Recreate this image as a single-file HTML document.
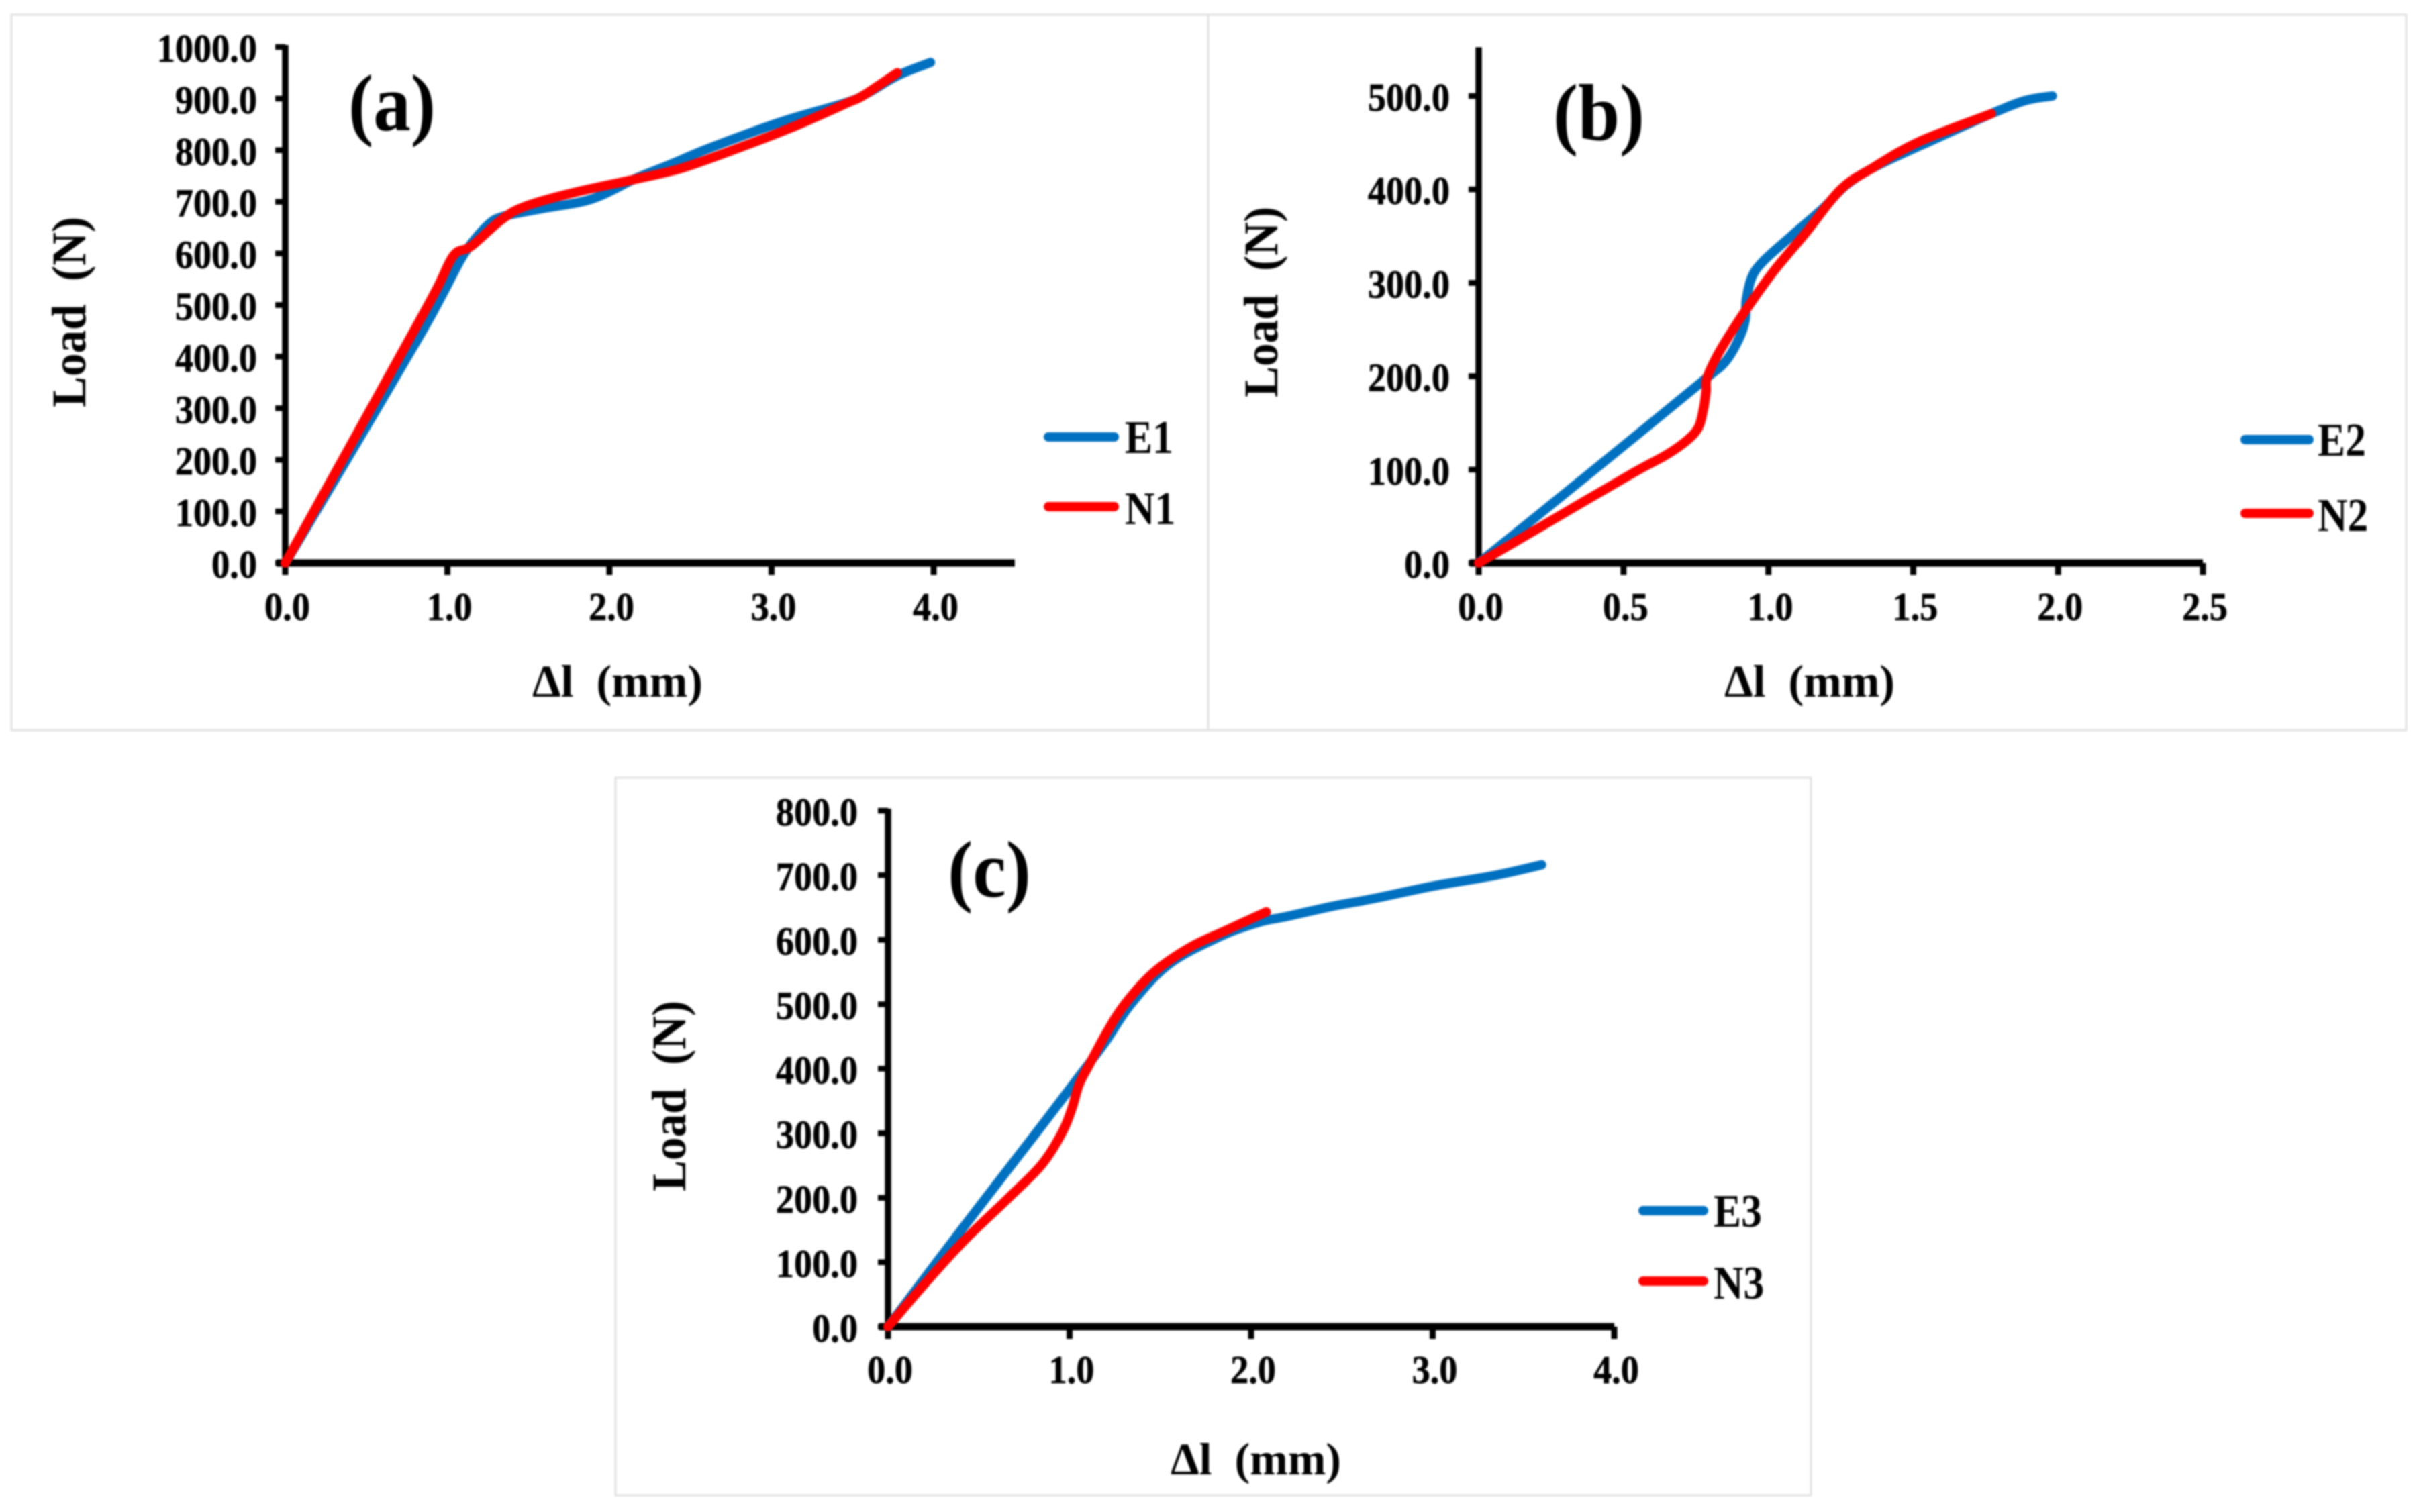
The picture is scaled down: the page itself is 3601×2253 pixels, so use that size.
<!DOCTYPE html>
<html lang="en">
<head>
<meta charset="utf-8">
<title>Load versus elongation charts</title>
<style>
html,body{margin:0;padding:0;background:#fff;}
body{width:3601px;height:2253px;overflow:hidden;}
svg{display:block;filter:blur(1.2px);}
text{font-family:"Liberation Serif",serif;font-weight:bold;fill:#000;}
</style>
</head>
<body>
<svg id="figure" xmlns="http://www.w3.org/2000/svg" width="3601" height="2253" viewBox="0 0 3601 2253">
  <rect x="17" y="22" width="1783" height="1066" fill="#fff" stroke="#e2e2e2" stroke-width="3"/>
  <rect x="1800" y="22" width="1785" height="1066" fill="#fff" stroke="#e2e2e2" stroke-width="3"/>
  <rect x="917" y="1159" width="1781" height="1069" fill="#fff" stroke="#e2e2e2" stroke-width="3"/>
</svg>
<script>
// Panel (a) data
const aXTicks = [0, 1, 2, 3, 4];
const aYTicks = [0, 100, 200, 300, 400, 500, 600, 700, 800, 900, 1000];
const e1X = [0, 0.42, 0.83, 0.977, 1.105, 1.25, 1.35, 1.57, 1.886, 2.16, 2.373, 2.584, 2.836, 3.11, 3.47, 3.6, 3.78, 3.98];
const e1Y = [0, 222, 441, 525, 600, 655, 672, 686, 705, 745, 772, 800, 830, 860, 893, 912, 945, 970];
const n1X = [0, 0.39, 0.778, 0.936, 1.041, 1.147, 1.337, 1.487, 1.78, 2.16, 2.455, 2.836, 3.155, 3.47, 3.56, 3.776];
const n1Y = [0, 221, 441, 532, 597, 614, 666, 692, 718, 744, 766, 809, 848, 892, 905, 950];

// Panel (b) data
const bXTicks = [0, 0.5, 1, 1.5, 2, 2.5];
const bYTicks = [0, 100, 200, 300, 400, 500];
const e2X = [0, 0.264, 0.542, 0.774, 0.85, 0.897, 0.92, 0.924, 0.943, 0.982, 1.075, 1.19, 1.27, 1.38, 1.59, 1.77, 1.885, 1.98];
const e2Y = [0, 66, 136, 195, 215, 239, 260, 282, 306, 323, 349, 380, 405, 426, 456, 481, 495, 500];
const n2X = [0, 0.1, 0.364, 0.542, 0.649, 0.718, 0.758, 0.776, 0.785, 0.788, 0.827, 0.88, 0.936, 1.02, 1.128, 1.25, 1.36, 1.52, 1.77];
const n2Y = [0, 18, 66, 98, 116, 131, 145, 165, 184, 198, 224, 251, 277, 313, 353, 400, 423, 451, 481];

// Panel (c) data
const cXTicks = [0, 1, 2, 3, 4];
const cYTicks = [0, 100, 200, 300, 400, 500, 600, 700, 800];
const e3X = [0, 0.417, 0.842, 1.053, 1.193, 1.337, 1.547, 1.828, 2.043, 2.197, 2.45, 2.68, 3.0, 3.35, 3.6];
const e3Y = [0, 155, 310, 388, 440, 500, 562, 605, 627, 636, 652, 664, 683, 700, 716];
const n3X = [0, 0.2, 0.417, 0.657, 0.842, 0.953, 1.01, 1.053, 1.108, 1.208, 1.307, 1.462, 1.662, 1.858, 2.083];
const n3Y = [0, 66, 133, 198, 250, 298, 336, 376, 406, 458, 501, 549, 588, 614, 643];

const svg = document.getElementById('figure');
const NS = 'http://www.w3.org/2000/svg';

function make(tag, attrs, parent, txt) {
  const el = document.createElementNS(NS, tag);
  for (const k in attrs) el.setAttribute(k, attrs[k]);
  if (txt !== undefined) el.textContent = txt;
  parent.appendChild(el);
  return el;
}

function smoothPath(xs, ys, sx, sy) {
  const p = xs.map((v, i) => [sx(v), sy(ys[i])]);
  let d = 'M' + p[0][0].toFixed(1) + ' ' + p[0][1].toFixed(1);
  for (let i = 0; i < p.length - 1; i++) {
    const a = p[Math.max(i - 1, 0)], b = p[i], c = p[i + 1], e = p[Math.min(i + 2, p.length - 1)];
    const c1x = b[0] + (c[0] - a[0]) / 6, c1y = b[1] + (c[1] - a[1]) / 6;
    const c2x = c[0] - (e[0] - b[0]) / 6, c2y = c[1] - (e[1] - b[1]) / 6;
    d += ' C' + c1x.toFixed(1) + ' ' + c1y.toFixed(1) + ' ' + c2x.toFixed(1) + ' ' + c2y.toFixed(1) + ' ' + c[0].toFixed(1) + ' ' + c[1].toFixed(1);
  }
  return d;
}

function squeezed(x, y, sxf) {
  return 'translate(' + x + ' ' + y + ') scale(' + sxf + ' 1)';
}

function drawPanel(cfg) {
  const g = make('g', {}, svg);
  
  

  const sx = v => cfg.x0 + (v / cfg.xMax) * cfg.xSpan;
  const sy = v => cfg.y0 - (v / cfg.yMax) * cfg.ySpan;

  const yAxis = make('line', {x1: cfg.x0, x2: cfg.x0, y1: sy(cfg.yTop) - 3, y2: cfg.y0 + 5, stroke: '#000', 'stroke-width': 9.5}, g);
  
  

  const xAxis = make('line', {x1: cfg.x0 - 13, x2: sx(cfg.xTop), y1: cfg.y0, y2: cfg.y0, stroke: '#000', 'stroke-width': 11}, g);
  
  

  cfg.yTicks.forEach(v => {
    const t = make('line', {x1: cfg.x0 - 15, x2: cfg.x0, y1: sy(v), y2: sy(v), stroke: '#000', 'stroke-width': 8.5}, g);
    
    
    const l = make('text', {transform: squeezed(cfg.yLabelRight, sy(v) + 22, 0.92), 'text-anchor': 'end', 'font-size': 59, stroke: '#000', 'stroke-width': 0.7}, g, v.toFixed(1));
    
    
  });

  cfg.xTicks.forEach(v => {
    const t = make('line', {x1: sx(v), x2: sx(v), y1: cfg.y0, y2: cfg.y0 + 18, stroke: '#000', 'stroke-width': 9}, g);
    
    
    const l = make('text', {transform: squeezed(sx(v) + 3, cfg.xLabelY, 0.92), 'text-anchor': 'middle', 'font-size': 59, stroke: '#000', 'stroke-width': 0.7}, g, v.toFixed(1));
    
    
  });

  const blue = make('path', {d: smoothPath(cfg.eX, cfg.eY, sx, sy), fill: 'none', stroke: '#0070c0', 'stroke-width': 14, 'stroke-linecap': 'round', 'stroke-linejoin': 'round'}, g);
  
  

  const red = make('path', {d: smoothPath(cfg.nX, cfg.nY, sx, sy), fill: 'none', stroke: '#ff0000', 'stroke-width': 14, 'stroke-linecap': 'round', 'stroke-linejoin': 'round'}, g);
  
  

  const xt = make('text', {x: cfg.xTitleX, y: cfg.xTitleY, 'text-anchor': 'middle', 'font-size': 68}, g, 'Δl\u00a0\u00a0(mm)');
  
  

  const yt = make('text', {transform: 'translate(' + cfg.yTitleX + ' ' + cfg.yTitleY + ') rotate(-90) scale(0.96 1)', 'text-anchor': 'middle', 'font-size': 72}, g, 'Load\u00a0\u00a0(N)');
  
  

  const pl = make('text', {transform: squeezed(cfg.tagX, cfg.tagY, 0.93), 'text-anchor': 'middle', 'font-size': 120}, g, cfg.tag);
  
  

  const eLine = make('line', {x1: cfg.legX1, x2: cfg.legX2, y1: cfg.legY1, y2: cfg.legY1, stroke: '#0070c0', 'stroke-width': 14, 'stroke-linecap': 'round'}, g);
  
  

  const nLine = make('line', {x1: cfg.legX1, x2: cfg.legX2, y1: cfg.legY2, y2: cfg.legY2, stroke: '#ff0000', 'stroke-width': 14, 'stroke-linecap': 'round'}, g);
  
  

  const eText = make('text', {transform: squeezed(cfg.legTextX, cfg.legY1 + 24, 0.88), 'font-size': 70}, g, cfg.eName);
  
  

  const nText = make('text', {transform: squeezed(cfg.legTextX, cfg.legY2 + 26, 0.88), 'font-size': 70}, g, cfg.nName);
  
  
}

drawPanel({id: 'a', tag: '(a)', x0: 425, y0: 839, xMax: 4, xSpan: 966, yMax: 1000, ySpan: 769, yTop: 1000, xTop: 4.5,
  xTicks: aXTicks, yTicks: aYTicks, eX: e1X, eY: e1Y, nX: n1X, nY: n1Y, eName: 'E1', nName: 'N1',
  yLabelRight: 383, xLabelY: 924, xTitleX: 920, xTitleY: 1038, yTitleX: 127, yTitleY: 465, tagX: 584, tagY: 194,
  legX1: 1562, legX2: 1660, legY1: 651, legY2: 755, legTextX: 1676});

drawPanel({id: 'b', tag: '(b)', x0: 2203, y0: 839, xMax: 2.5, xSpan: 1079, yMax: 500, ySpan: 696, yTop: 550, xTop: 2.5,
  xTicks: bXTicks, yTicks: bYTicks, eX: e2X, eY: e2Y, nX: n2X, nY: n2Y, eName: 'E2', nName: 'N2',
  yLabelRight: 2160, xLabelY: 924, xTitleX: 2696, xTitleY: 1038, yTitleX: 1903, yTitleY: 450, tagX: 2382, tagY: 208,
  legX1: 3345, legX2: 3440, legY1: 655, legY2: 765, legTextX: 3453});

drawPanel({id: 'c', tag: '(c)', x0: 1323, y0: 1977, xMax: 4, xSpan: 1082, yMax: 800, ySpan: 769, yTop: 800, xTop: 4,
  xTicks: cXTicks, yTicks: cYTicks, eX: e3X, eY: e3Y, nX: n3X, nY: n3Y, eName: 'E3', nName: 'N3',
  yLabelRight: 1278, xLabelY: 2061, xTitleX: 1871, xTitleY: 2197, yTitleX: 1021, yTitleY: 1633, tagX: 1474, tagY: 1336,
  legX1: 2448, legX2: 2538, legY1: 1804, legY2: 1909, legTextX: 2553});
</script>
</body>
</html>
